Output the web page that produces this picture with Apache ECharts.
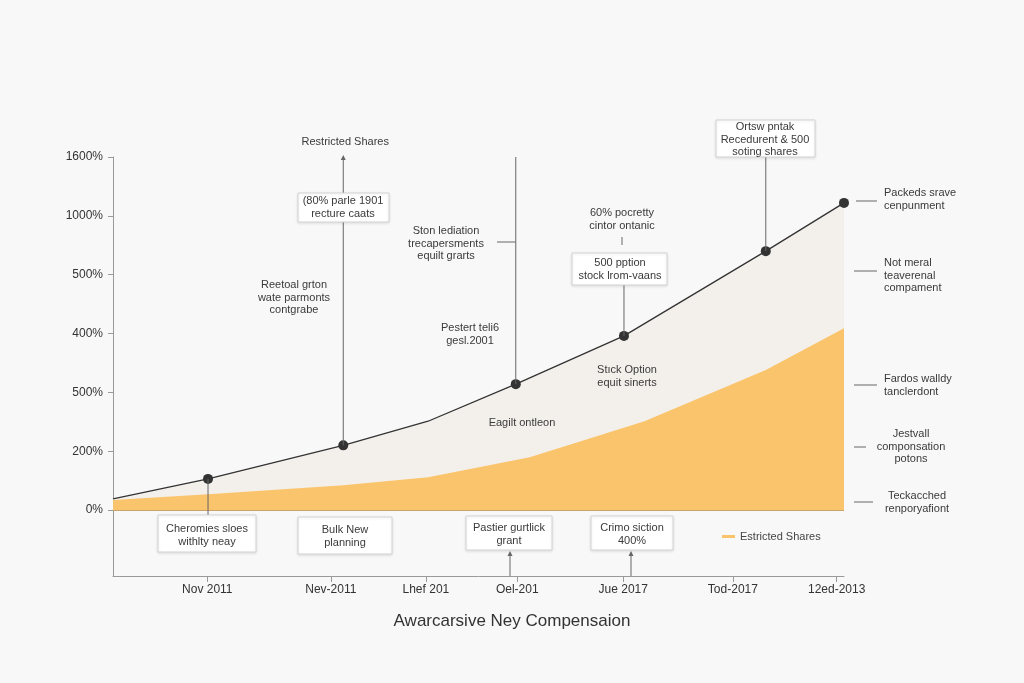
<!DOCTYPE html>
<html><head><meta charset="utf-8">
<script src="https://cdn.jsdelivr.net/npm/echarts@6/dist/echarts.min.js"></script>
<style>html,body{margin:0;padding:0;background:#f8f8f8;}#c{width:1024px;height:683px;}</style>
</head><body><div id="c"></div>
<script>
// ---- data ----
const xTickPos = [12.9, 29.8, 42.8, 55.3, 69.8, 84.8, 99.0];
const xTickLabels = ['Nov 2011', 'Nev-2011', 'Lhef 201', 'Oel-201', 'Jue 2017', 'Tod-2017', '12ed-2013'];
const yTickPos = [0, 1, 2, 3, 4, 5, 6];
const yTickLabels = ['0%', '200%', '500%', '400%', '500%', '1000%', '1600%'];
const totalX = [0, 13.0, 31.5, 43.1, 55.1, 69.9, 89.3, 100];
const totalY = [0.19, 0.53, 1.10, 1.51, 2.14, 2.96, 4.40, 5.22];
const dotShown = [false, true, true, false, true, true, true, true];
const restrictedX = [0, 13.0, 31.5, 43.1, 57.0, 72.7, 89.3, 100];
const restrictedY = [0.17, 0.27, 0.42, 0.56, 0.90, 1.51, 2.38, 3.09];
const titleText = 'Awarcarsive Ney Compensaion';
const legendName = 'Estricted Shares';

const ORANGE = '#fac46c';
const BEIGE = '#f3f0ec';
const FONT = '"Liberation Sans", Arial, sans-serif';

const chart = echarts.init(document.getElementById('c'), null, {renderer: 'canvas'});

const totalData = totalX.map((x, i) => ({
  value: [x, totalY[i]],
  symbolSize: dotShown[i] ? 10 : 0
}));
const restrictedData = restrictedX.map((x, i) => [x, restrictedY[i]]);

chart.setOption({
  backgroundColor: '#f8f8f8',
  animation: false,
  textStyle: {fontFamily: FONT},
  grid: {left: 113, right: 180, top: 157, bottom: 107, containLabel: false},
  title: {
    text: titleText, left: 'center', top: 608,
    textStyle: {fontSize: 17, fontWeight: 'normal', color: '#333', fontFamily: FONT}
  },
  legend: {
    left: 717, top: 526, data: [{name: legendName, icon: 'rect'}],
    itemWidth: 13, itemHeight: 3, itemGap: 4,
    textStyle: {fontSize: 11, color: '#444', fontFamily: FONT}
  },
  xAxis: {
    type: 'value', min: 0, max: 100,
    axisLine: {show: true, onZero: false, lineStyle: {color: '#9a9a9a', width: 1}},
    axisTick: {show: true, length: 6, customValues: xTickPos, lineStyle: {color: '#9a9a9a'}},
    axisLabel: {
      customValues: xTickPos, color: '#333', fontSize: 12, margin: 8,
      formatter: v => { const i = xTickPos.findIndex(p => Math.abs(p - v) < 0.01); return i >= 0 ? xTickLabels[i] : ''; }
    },
    splitLine: {show: false}
  },
  yAxis: {
    type: 'value', min: -1.12, max: 6,
    axisLine: {show: true, onZero: false, lineStyle: {color: '#9a9a9a', width: 1}},
    axisTick: {show: true, length: 5, customValues: yTickPos, lineStyle: {color: '#9a9a9a'}},
    axisLabel: {
      customValues: yTickPos, color: '#333', fontSize: 12, margin: 10,
      formatter: v => { const i = yTickPos.findIndex(p => Math.abs(p - v) < 0.01); return i >= 0 ? yTickLabels[i] : ''; }
    },
    splitLine: {show: false}
  },
  series: [
    {
      name: 'Total', type: 'line', data: totalData, z: 3,
      symbol: 'circle', showSymbol: true,
      itemStyle: {color: '#333'},
      lineStyle: {color: '#333', width: 1.3},
      areaStyle: {color: BEIGE, opacity: 1, origin: 'auto'}
    },
    {
      name: legendName, type: 'line', data: restrictedData, z: 4,
      symbol: 'none', itemStyle: {color: ORANGE},
      lineStyle: {width: 0, color: ORANGE},
      areaStyle: {color: ORANGE, opacity: 1, origin: 'auto'},
      markLine: {
        silent: true, symbol: 'none', label: {show: false},
        lineStyle: {color: '#c9a46a', width: 1.2, type: 'solid'},
        data: [[{coord: [0, 0]}, {coord: [100, 0]}]]
      }
    }
  ]
});

// ---- annotations ----
function px(i) { return chart.convertToPixel({seriesIndex: 0}, [totalX[i], totalY[i]]); }
const axisY = chart.convertToPixel({yAxisIndex: 0}, -1.12);
const topY = chart.convertToPixel({yAxisIndex: 0}, 6);

const els = [];
const TXT = '#3a3a3a';
function text(str, x, y, align, size) {
  els.push({type: 'text', z: 20, style: {text: str, x: x, y: y, align: align || 'center', verticalAlign: 'top',
    font: (size || 11) + 'px ' + FONT, fill: TXT, lineHeight: 12.5}});
}
function box(x, y, w, h) {
  els.push({type: 'rect', z: 15, shape: {x: x, y: y, width: w, height: h},
    style: {fill: '#ffffff', stroke: '#d4d4d4', lineWidth: 1, shadowBlur: 3, shadowColor: 'rgba(0,0,0,0.10)', shadowOffsetY: 1}});
}
function line(x1, y1, x2, y2, c) {
  els.push({type: 'line', z: 12, shape: {x1: x1, y1: y1, x2: x2, y2: y2}, style: {stroke: c || '#666', lineWidth: 1}});
}
function arrowUp(x, y) {
  els.push({type: 'polygon', z: 13, shape: {points: [[x, y], [x - 2.5, y + 5], [x + 2.5, y + 5]]}, style: {fill: '#666'}});
}

const p1 = px(1), p2 = px(2), p4 = px(4), p5 = px(5), p6 = px(6), p7 = px(7);

// Restricted shares arrow at dot 2
line(p2[0], p2[1], p2[0], topY + 1);
arrowUp(p2[0], topY - 2);
text('Restricted Shares', p2[0] + 2, 136);
box(298, 193, 91, 29);
text('(80% parle 1901\nrecture caats', 343, 195);
text('Reetoal grton\nwate parmonts\ncontgrabe', 294, 279);

// line at dot 4
line(p4[0], topY, p4[0], p4[1]);
line(497, 242, p4[0], 242);
text('Ston lediation\ntrecapersments\nequilt grarts', 446, 225);
text('Pestert teli6\ngesl.2001', 470, 322);

// dot 5
text('60% pocretty\ncintor ontanic', 622, 207);
line(622, 237, 622, 245);
box(572, 253, 95, 32);
text('500 pption\nstock lrom-vaans', 620, 257);
line(p5[0], 285, p5[0], p5[1]);
text('Stıck Option\nequit sinerts', 627, 364);
text('Eagilt ontleon', 522, 417);

// dot 6
box(716, 120, 99, 37);
text('Ortsw pntak\nRecedurent & 500\nsoting shares', 765, 121);
line(p6[0], 157, p6[0], p6[1]);

// right side labels
line(856, 201, 877, 201);
text('Packeds srave\ncenpunment', 884, 187, 'left');
line(854, 271, 877, 271);
text('Not meral\nteaverenal\ncompament', 884, 257, 'left');
line(854, 385, 877, 385);
text('Fardos walldy\ntanclerdont', 884, 373, 'left');
line(854, 447, 866, 447);
text('Jestvall\ncomponsation\npotons', 911, 428);
line(854, 502, 873, 502);
text('Teckacched\nrenporyafiont', 917, 490);

// bottom boxes
line(p1[0], p1[1], p1[0], 515);
box(158, 515, 98, 37);
text('Cheromies sloes\nwithlty neay', 207, 523);
box(298, 517, 94, 37);
text('Bulk New\nplanning', 345, 524);
box(466, 516, 86, 34);
text('Pastier gurtlick\ngrant', 509, 522);
line(510, axisY, 510, 556);
arrowUp(510, 551);
box(591, 516, 82, 34);
text('Crimo siction\n400%', 632, 522);
line(631, axisY, 631, 556);
arrowUp(631, 551);

chart.setOption({graphic: {elements: els}});
</script>
</body></html>
